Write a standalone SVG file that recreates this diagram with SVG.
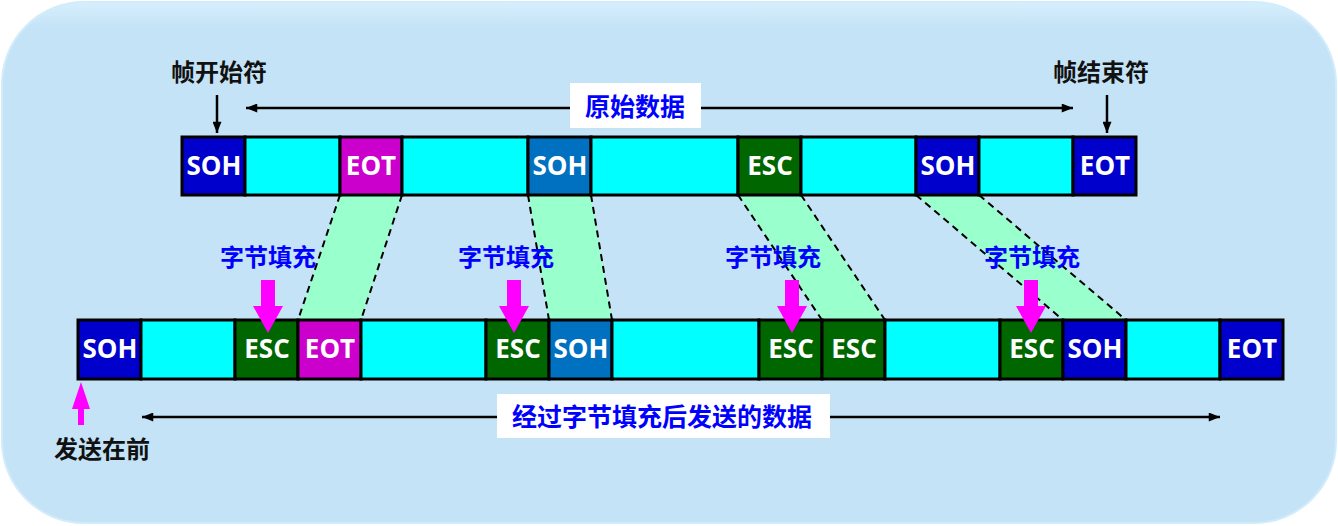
<svg xmlns="http://www.w3.org/2000/svg" width="1338" height="526" viewBox="0 0 1338 526">
  <defs>
    <style>
      .cell { stroke: #000; stroke-width: 3; }
      .data { fill: #00FFFF; }
      .soh { fill: #0000CC; }
      .soh2 { fill: #0070C0; }
      .eot { fill: #CC00CC; }
      .esc { fill: #006600; }
      .ctext { font-family: "Open Sans", "Noto Sans", sans-serif; font-weight: 700; font-size: 26px; fill: #fff; text-anchor: middle; }
      .label { font-family: "Noto Sans CJK SC", sans-serif; font-weight: 700; font-size: 24px; text-anchor: middle; }
      .blue { fill: #0000FF; }
      .black { fill: #111; }
      .band { fill: #99FFCC; stroke: none; }
      .dash { stroke: #000; stroke-width: 2; stroke-dasharray: 7 5; fill: none; }
      .line { stroke: #000; stroke-width: 2.5; fill: none; }
      .push { fill: #FF00FF; }
      .box { fill: #fff; }
    </style>
    <marker id="head" viewBox="0 0 10 8" refX="10" refY="4" markerWidth="12" markerHeight="9" markerUnits="userSpaceOnUse" orient="auto-start-reverse">
      <path d="M0,0 L10,4 L0,8 z" fill="#000"/>
    </marker>
    <linearGradient id="rim" x1="0" y1="0" x2="0" y2="1">
      <stop offset="0" stop-color="#d6effd"/>
      <stop offset="0.05" stop-color="#c4e3f7"/>
      <stop offset="1" stop-color="#c4e3f7"/>
    </linearGradient>
  </defs>

  <!-- panel -->
  <rect x="2" y="2" width="1334" height="521" rx="82" ry="82" fill="url(#rim)" stroke="#d2ecfb" stroke-width="2"/>

  <!-- connectors: stuffed bytes mapped from the original frame to the sent frame -->
  <g id="connectors">
    <polygon class="band" points="340,195 402,195 361,320 298,320"/>
    <polygon class="band" points="528,195 591,195 612,320 549,320"/>
    <polygon class="band" points="738,195 801,195 885,320 822,320"/>
    <polygon class="band" points="916,195 979,195 1126,320 1063,320"/>
    <line class="dash" x1="340" y1="195" x2="298" y2="320"/>
    <line class="dash" x1="402" y1="195" x2="361" y2="320"/>
    <line class="dash" x1="528" y1="195" x2="549" y2="320"/>
    <line class="dash" x1="591" y1="195" x2="612" y2="320"/>
    <line class="dash" x1="738" y1="195" x2="822" y2="320"/>
    <line class="dash" x1="801" y1="195" x2="885" y2="320"/>
    <line class="dash" x1="916" y1="195" x2="1063" y2="320"/>
    <line class="dash" x1="979" y1="195" x2="1126" y2="320"/>

    <line class="line" x1="217" y1="95" x2="217" y2="133" marker-end="url(#head)"/>
    <line class="line" x1="1107" y1="95" x2="1107" y2="133" marker-end="url(#head)"/>
    <line class="line" x1="246" y1="108" x2="1073" y2="108" marker-start="url(#head)" marker-end="url(#head)"/>
    <line class="line" x1="142" y1="417" x2="1220" y2="417" marker-start="url(#head)" marker-end="url(#head)"/>
  </g>

  <!-- original frame -->
  <g id="frame-original">
    <rect class="cell soh" x="182" y="137" width="63" height="58"/>
    <rect class="cell data" x="245" y="137" width="95" height="58"/>
    <rect class="cell eot" x="340" y="137" width="62" height="58"/>
    <rect class="cell data" x="402" y="137" width="126" height="58"/>
    <rect class="cell soh2" x="528" y="137" width="63" height="58"/>
    <rect class="cell data" x="591" y="137" width="147" height="58"/>
    <rect class="cell esc" x="738" y="137" width="63" height="58"/>
    <rect class="cell data" x="801" y="137" width="115" height="58"/>
    <rect class="cell soh" x="916" y="137" width="63" height="58"/>
    <rect class="cell data" x="979" y="137" width="94" height="58"/>
    <rect class="cell soh" x="1073" y="137" width="63" height="58"/>
    <text class="ctext" x="214" y="175">SOH</text>
    <text class="ctext" x="371" y="175">EOT</text>
    <text class="ctext" x="560" y="175">SOH</text>
    <text class="ctext" x="770" y="175">ESC</text>
    <text class="ctext" x="948" y="175">SOH</text>
    <text class="ctext" x="1105" y="175">EOT</text>
  </g>

  <!-- stuffed frame -->
  <g id="frame-stuffed">
    <rect class="cell soh" x="78" y="320" width="63" height="59"/>
    <rect class="cell data" x="141" y="320" width="94" height="59"/>
    <rect class="cell esc" x="235" y="320" width="63" height="59"/>
    <rect class="cell eot" x="298" y="320" width="63" height="59"/>
    <rect class="cell data" x="361" y="320" width="125" height="59"/>
    <rect class="cell esc" x="486" y="320" width="63" height="59"/>
    <rect class="cell soh2" x="549" y="320" width="63" height="59"/>
    <rect class="cell data" x="612" y="320" width="147" height="59"/>
    <rect class="cell esc" x="759" y="320" width="63" height="59"/>
    <rect class="cell esc" x="822" y="320" width="63" height="59"/>
    <rect class="cell data" x="885" y="320" width="115" height="59"/>
    <rect class="cell esc" x="1000" y="320" width="63" height="59"/>
    <rect class="cell soh" x="1063" y="320" width="63" height="59"/>
    <rect class="cell data" x="1126" y="320" width="94" height="59"/>
    <rect class="cell soh" x="1220" y="320" width="63" height="59"/>
    <text class="ctext" x="110" y="358">SOH</text>
    <text class="ctext" x="267" y="358">ESC</text>
    <text class="ctext" x="330" y="358">EOT</text>
    <text class="ctext" x="518" y="358">ESC</text>
    <text class="ctext" x="581" y="358">SOH</text>
    <text class="ctext" x="791" y="358">ESC</text>
    <text class="ctext" x="854" y="358">ESC</text>
    <text class="ctext" x="1032" y="358">ESC</text>
    <text class="ctext" x="1095" y="358">SOH</text>
    <text class="ctext" x="1252" y="358">EOT</text>
  </g>

  <!-- stuffing markers -->
  <g id="stuff-1">
    <text class="label blue" x="268" y="266">字节填充</text>
    <polygon class="push" points="261,280 275,280 275,306 283,306 268,333 253,306 261,306"/>
  </g>
  <g id="stuff-2">
    <text class="label blue" x="506" y="266">字节填充</text>
    <polygon class="push" points="507,280 521,280 521,306 529,306 514,333 499,306 507,306"/>
  </g>
  <g id="stuff-3">
    <text class="label blue" x="773" y="266">字节填充</text>
    <polygon class="push" points="785,280 799,280 799,306 807,306 792,333 777,306 785,306"/>
  </g>
  <g id="stuff-4">
    <text class="label blue" x="1032" y="266">字节填充</text>
    <polygon class="push" points="1024,280 1038,280 1038,306 1046,306 1031,333 1016,306 1024,306"/>
  </g>

  <!-- frame delimiters -->
  <g id="start-label">
    <text class="label black" x="219" y="81">帧开始符</text>
  </g>
  <g id="end-label">
    <text class="label black" x="1101" y="81">帧结束符</text>
  </g>

  <!-- span labels -->
  <g id="original-data">
    <rect class="box" x="570" y="83" width="131" height="45"/>
    <text class="label blue" x="635" y="116" style="font-size:25px">原始数据</text>
  </g>
  <g id="sent-data">
    <rect class="box" x="497" y="394" width="333" height="44"/>
    <text class="label blue" x="662" y="426" style="font-size:25px">经过字节填充后发送的数据</text>
  </g>

  <!-- send order -->
  <g id="send-first">
    <polygon class="push" points="81,382 90,409 84,409 84,425 78,425 78,409 72,409"/>
    <text class="label black" x="102" y="458">发送在前</text>
  </g>
</svg>
